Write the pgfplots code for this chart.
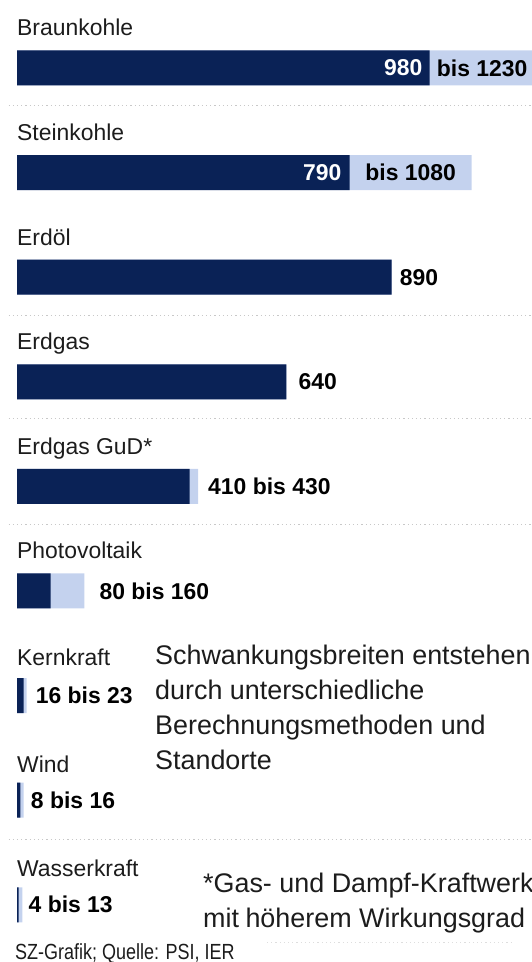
\documentclass[border=0pt]{standalone}
\usepackage{fontspec}
\setmainfont{Liberation Sans}
\usepackage{graphicx}
\usepackage{pgfplots}
\pgfplotsset{compat=1.18}
\definecolor{navy}{RGB}{10,34,86}
\definecolor{lightb}{RGB}{196,210,238}
\definecolor{sepc}{RGB}{200,200,200}
\definecolor{txt}{RGB}{28,28,28}
\newcommand{\lab}{\fontsize{23}{27}\selectfont}
\newcommand{\val}{\fontsize{23}{27}\selectfont\bfseries}
\newcommand{\note}{\fontsize{27}{33}\selectfont}
\begin{document}
\begin{tikzpicture}
\begin{axis}[
  at={(0,0)}, anchor=south west,
  scale only axis, width=532bp, height=962bp,
  xmin=-40.4, xmax=1223.3,
  ymin=-0.650, ymax=8.547, y dir=reverse,
  hide axis, clip=false,
]
% separators
\addplot[sepc, line width=1bp, dash pattern=on 1.2bp off 3bp, forget plot] coordinates {(-20,0.36) (1300,0.36)};
\addplot[sepc, line width=1bp, dash pattern=on 1.2bp off 3bp, forget plot] coordinates {(-20,2.37) (1300,2.37)};
\addplot[sepc, line width=1bp, dash pattern=on 1.2bp off 3bp, forget plot] coordinates {(-20,3.35) (1300,3.35)};
\addplot[sepc, line width=1bp, dash pattern=on 1.2bp off 3bp, forget plot] coordinates {(-20,4.36) (1300,4.36)};
\addplot[sepc, line width=1bp, dash pattern=on 1.2bp off 3bp, forget plot] coordinates {(-20,7.38) (1300,7.38)};
\addplot[sepc!60, line width=1bp, dash pattern=on 1.2bp off 3bp, forget plot] coordinates {(594,8.36) (1178,8.36)};
% maximum (light) bars
\addplot[xbar, bar width=35bp, bar shift=0pt, fill=lightb, draw=none] coordinates {
  (1230,0) (1080,1) (890,2) (640,3) (430,4) (160,5) (23,6) (16,7) (13,8)};
% minimum (dark) bars
\addplot[xbar, bar width=35bp, bar shift=0pt, fill=navy, draw=none] coordinates {
  (980,0) (790,1) (890,2) (640,3) (410,4) (80,5) (16,6) (8,7) (4,8)};
% category labels
\begin{scope}[every node/.style={inner sep=0pt, text=txt, font=\lab, anchor=base west}]
\node[yshift=32bp] at (axis cs:0,0) {Braunkohle};
\node[yshift=32bp] at (axis cs:0,1) {Steinkohle};
\node[yshift=32bp] at (axis cs:0,2) {Erdöl};
\node[yshift=32bp] at (axis cs:0,3) {Erdgas};
\node[yshift=32bp] at (axis cs:0,4) {Erdgas GuD*};
\node[yshift=32bp] at (axis cs:0,5) {Photovoltaik};
\node[yshift=30bp] at (axis cs:0,6) {Kernkraft};
\node[yshift=28bp] at (axis cs:0,7) {Wind};
\node[yshift=28bp] at (axis cs:0,8) {Wasserkraft};
\end{scope}
% value labels
\begin{scope}[every node/.style={inner sep=0pt, text=black, font=\val}]
\node[anchor=east, text=white, xshift=-7bp] at (axis cs:980,0) {980};
\node[anchor=center] at (axis cs:1105,0) {bis 1230};
\node[anchor=east, text=white, xshift=-8bp] at (axis cs:790,1) {790};
\node[anchor=center] at (axis cs:935,1) {bis 1080};
\node[anchor=west, xshift=8bp] at (axis cs:890,2) {890};
\node[anchor=west, xshift=12bp] at (axis cs:640,3) {640};
\node[anchor=west, xshift=10bp] at (axis cs:430,4) {410 bis 430};
\node[anchor=west, xshift=15bp] at (axis cs:160,5) {80 bis 160};
\node[anchor=west, xshift=9bp] at (axis cs:23,6) {16 bis 23};
\node[anchor=west, xshift=7bp] at (axis cs:16,7) {8 bis 16};
\node[anchor=west, xshift=6bp] at (axis cs:13,8) {4 bis 13};
\end{scope}
\end{axis}
\begin{scope}[every node/.style={inner sep=0pt, text=txt, font=\note, anchor=base west}]
\node at (155bp,297bp) {Schwankungsbreiten entstehen};
\node at (155bp,262bp) {durch unterschiedliche};
\node at (155bp,227bp) {Berechnungsmethoden und};
\node at (155bp,192bp) {Standorte};
\node at (203bp,69bp) {*Gas- und Dampf-Kraftwerk};
\node at (203bp,35bp) {mit\kern-1bp\ höherem Wirkungsgrad};
\node[font=\fontsize{22}{26}\selectfont] at (15bp,3bp) {\scalebox{0.82}[1]{SZ-Grafik; Quelle: PSI, IER}};
\end{scope}
\pgfresetboundingbox
\path (0,0) rectangle (532bp,962bp);
\end{tikzpicture}
\end{document}
